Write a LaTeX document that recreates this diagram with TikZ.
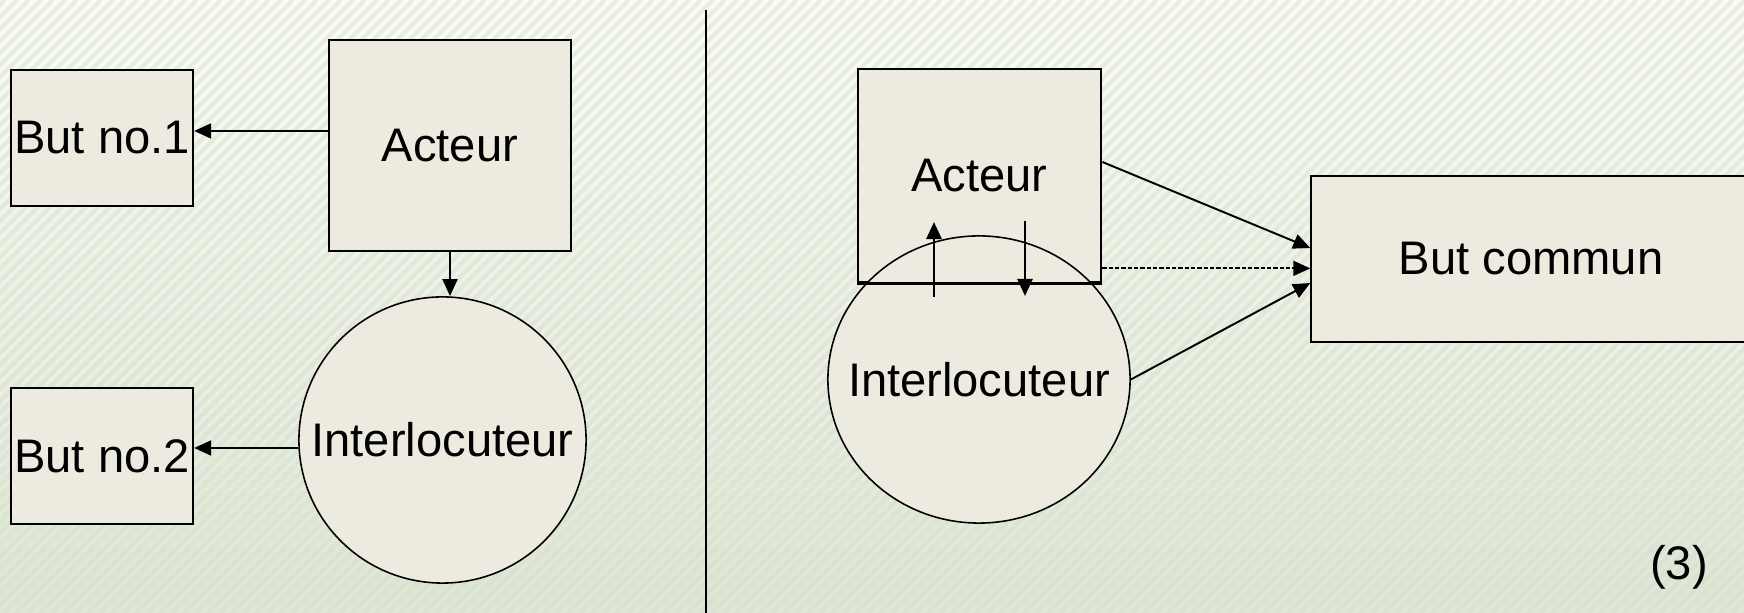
\documentclass[tikz,border=0pt]{standalone}
\usepackage{fontspec}
\setmainfont{Liberation Sans}
\usepackage{xcolor}
\usetikzlibrary{shapes.geometric,arrows.meta}
\definecolor{boxfill}{HTML}{EDEBE0}
\definecolor{backtop}{HTML}{FBFCF9}
\definecolor{backbot}{HTML}{DFE5D8}
\definecolor{stripe}{HTML}{D3E0C0}
\tikzset{
  box/.style={draw,line width=0.63pt,fill=boxfill,inner sep=0pt},
  oval/.style={ellipse,draw,line width=0.45pt,fill=boxfill,inner sep=0pt},
  link/.style={line width=0.55pt,-{Triangle[length=0.17cm,width=0.15cm]}},
  updown/.style={line width=0.8pt,-{Triangle[length=0.17cm,width=0.15cm]}}
}

\begin{document}
\begin{tikzpicture}[x=0.01cm,y=-0.01cm,font=\fontsize{13.4}{16}\selectfont]
\useasboundingbox (0,0) rectangle (1744,613);
\clip (0,0) rectangle (1744,613);
\shade[top color=backtop,bottom color=backbot] (0,0) rectangle (1744,613);
\foreach\s in {-620,-608,...,1750}{\draw[stripe,opacity=0.45,line width=1.3pt] (\s,613) -- (\s+613,0);}
\draw[line width=0.6pt] (706,10) -- (706,613);

\node[box,minimum width=1.82cm,minimum height=1.36cm] (but1) at (102,138) {But no.1};
\node[box,minimum width=2.42cm,minimum height=2.11cm] (acteurL) at (450,145.5) {Acteur};
\node[oval,minimum width=2.87cm,minimum height=2.86cm,label=center:Interlocuteur] (interL) at (442.5,440) {};
\node[box,minimum width=1.82cm,minimum height=1.36cm] (but2) at (102,456) {But no.2};
\draw[link] ([yshift=0.07cm]but1.east -| acteurL.west) -- ([yshift=0.07cm]but1.east);
\draw[link] (acteurL.south) -- (acteurL.south |- interL.north);
\draw[link] ([yshift=0.08cm]but2.east -| interL.west) -- ([yshift=0.08cm]but2.east);

\node[box,line width=0.75pt,minimum width=2.43cm,minimum height=2.13cm] (acteurR) at (979.5,175.5) {Acteur};
\node[oval,minimum width=3.02cm,minimum height=2.87cm,label=center:Interlocuteur] (interR) at (979,379.5) {};
\draw[line width=0.75pt] (acteurR.south west) -- (acteurR.south east);
\node[box,minimum width=4.39cm,minimum height=1.66cm] (butC) at (1531,259) {But commun};
\coordinate (upfoot) at (934,297);
\coordinate (uphead) at (934,222);
\coordinate (dnfoot) at (1025,221);
\coordinate (dnhead) at (1025,296);
\draw[updown] (upfoot) -- (uphead);
\draw[updown] (dnfoot) -- (dnhead);
\draw[link] ([yshift=0.135cm]acteurR.east) -- ([yshift=0.11cm]butC.west);
\draw[link,dash pattern=on 1.2pt off 0.6pt] ([yshift=0.15cm]acteurR.south east) -- ([yshift=0.15cm]acteurR.south east -| butC.west);
\draw[link] (interR.east) -- ([yshift=-0.24cm]butC.west);

\node (num) at (1679,567) {(3)};
\end{tikzpicture}
\end{document}
